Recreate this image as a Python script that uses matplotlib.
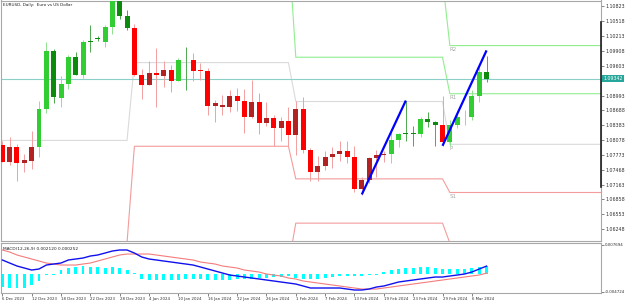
import matplotlib
matplotlib.use('Agg')
import matplotlib.pyplot as plt
import matplotlib.transforms as mtransforms

# EURUSD daily, 6 Dec 2023 - 8 Mar 2024
opens = [1.0797, 1.0763, 1.0793, 1.0761, 1.0764, 1.0794, 1.0872, 1.0991, 1.0895, 1.0922,
         1.0979, 1.0942, 1.1012, 1.1017, 1.1010, 1.1041, 1.1106, 1.1062, 1.1038, 1.0941,
         1.0921, 1.0946, 1.0940, 1.0951, 1.0930, 1.0973, 1.0972, 1.0951, 1.0949, 1.0878,
         1.0876, 1.0876, 1.0898, 1.0889, 1.0855, 1.0885, 1.0843, 1.0853, 1.0833, 1.0846,
         1.0818, 1.0872, 1.0788, 1.0742, 1.0755, 1.0773, 1.0779, 1.0785, 1.0772, 1.0708,
         1.0726, 1.0771, 1.0777, 1.0779, 1.0807, 1.0822, 1.0823, 1.0821, 1.0851, 1.0845,
         1.0838, 1.0804, 1.0838, 1.0855, 1.0856, 1.0899, 1.0948]
highs = [1.0805, 1.0815, 1.0799, 1.0779, 1.0826, 1.0888, 1.1009, 1.0995, 1.0939, 1.0983,
         1.0988, 1.1013, 1.1044, 1.1022, 1.1045, 1.1122, 1.1139, 1.1076, 1.1046, 1.0953,
         1.0971, 1.0998, 1.0970, 1.0962, 1.0977, 1.0999, 1.0987, 1.0966, 1.0955, 1.0890,
         1.0900, 1.0910, 1.0915, 1.0913, 1.0932, 1.0905, 1.0885, 1.0860, 1.0855, 1.0875,
         1.0888, 1.0897, 1.0792, 1.0775, 1.0785, 1.0793, 1.0806, 1.0805, 1.0795, 1.0731,
         1.0772, 1.0788, 1.0786, 1.0825, 1.0822, 1.0888, 1.0836, 1.0855, 1.0865, 1.0847,
         1.0898, 1.0849, 1.0868, 1.0870, 1.0911, 1.0963, 1.0981]
lows = [1.0762, 1.0757, 1.0724, 1.0743, 1.0748, 1.0772, 1.0864, 1.0883, 1.0876, 1.0913,
        1.0942, 1.0935, 1.0988, 1.1012, 1.1000, 1.1026, 1.1057, 1.1034, 1.0939, 1.0892,
        1.0920, 1.0876, 1.0917, 1.0907, 1.0929, 1.0910, 1.0930, 1.0932, 1.0860, 1.0844,
        1.0860, 1.0866, 1.0868, 1.0822, 1.0853, 1.0820, 1.0837, 1.0795, 1.0806, 1.0795,
        1.0778, 1.0781, 1.0723, 1.0723, 1.0747, 1.0750, 1.0765, 1.0760, 1.0700, 1.0695,
        1.0720, 1.0732, 1.0762, 1.0760, 1.0793, 1.0805, 1.0796, 1.0815, 1.0835, 1.0796,
        1.0796, 1.0796, 1.0832, 1.0838, 1.0850, 1.0887, 1.0928]
closes = [1.0763, 1.0794, 1.0760, 1.0766, 1.0794, 1.0872, 1.0991, 1.0896, 1.0922, 1.0979,
          1.0942, 1.1010, 1.1010, 1.1015, 1.1041, 1.1106, 1.1062, 1.1039, 1.0941, 1.0921,
          1.0946, 1.0941, 1.0951, 1.0930, 1.0973, 1.0972, 1.0950, 1.0949, 1.0878, 1.0883,
          1.0880, 1.0898, 1.0889, 1.0855, 1.0885, 1.0843, 1.0853, 1.0833, 1.0846, 1.0818,
          1.0872, 1.0788, 1.0742, 1.0755, 1.0773, 1.0779, 1.0785, 1.0772, 1.0708, 1.0726,
          1.0771, 1.0777, 1.0779, 1.0807, 1.0820, 1.0821, 1.0821, 1.0851, 1.0845, 1.0838,
          1.0804, 1.0838, 1.0855, 1.0856, 1.0899, 1.0948, 1.09342]
# trend colouring of the candles: U = green scheme, D = red scheme
trend = 'DDDDD' + 'U' * 13 + 'D' * 6 + 'UU' + 'D' * 27 + 'U' * 7 + 'D' + 'U' * 6

date_labels = ['6 Dec 2023', '12 Dec 2023', '18 Dec 2023', '22 Dec 2023', '28 Dec 2023',
               '4 Jan 2024', '10 Jan 2024', '16 Jan 2024', '22 Jan 2024', '26 Jan 2024',
               '1 Feb 2024', '7 Feb 2024', '13 Feb 2024', '19 Feb 2024', '23 Feb 2024',
               '29 Feb 2024', '6 Mar 2024']

# monthly pivots (Dec, Jan, Feb, Mar), first bar of each month
month_start = [0, 18, 40, 61]
piv_p = [1.0807, 1.0967, 1.0887, 1.0799]
piv_r1 = [1.1097, 1.1211, 1.0978, 1.0903]
piv_r2 = [1.1307, 1.1383, 1.1137, 1.1002]
piv_s1 = [1.0597, 1.0795, 1.0728, 1.0700]
piv_s2 = [1.0307, 1.0551, 1.0637, 1.0596]

# hand drawn trend lines (bar index, price)
trend_lines = [((49, 1.0696), (55, 1.0889)), ((60, 1.0796), (66, 1.0992))]

price_ticks = [1.06248, 1.06553, 1.06858, 1.07163, 1.07468, 1.07773, 1.08078, 1.08383,
               1.08688, 1.08993, 1.09603, 1.09908, 1.10213, 1.10518, 1.10823]
last_price = 1.09342

# MACD(12,26,9) panel
macd_main = [0.00373, 0.00293, 0.00214, 0.00161, 0.00108, 0.00135, 0.00240, 0.00267, 0.00293, 0.00373,
             0.00399, 0.00425, 0.00478, 0.00505, 0.00557, 0.00610, 0.00637, 0.00637, 0.00557, 0.00452,
             0.00399, 0.00373, 0.00346, 0.00320, 0.00293, 0.00267, 0.00240, 0.00188, 0.00135, 0.00082,
             0.00029, -0.00024, -0.00050, -0.00077, -0.00103, -0.00129, -0.00156, -0.00182, -0.00209, -0.00235,
             -0.00262, -0.00314, -0.00367, -0.00367, -0.00367, -0.00367, -0.00367, -0.00394, -0.00420, -0.00420,
             -0.00394, -0.00341, -0.00314, -0.00262, -0.00209, -0.00182, -0.00156, -0.00129, -0.00103, -0.00077,
             -0.00077, -0.00050, -0.00024, 0.00003, 0.00055, 0.00135, 0.00212]
macd_signal = [0.00637, 0.00584, 0.00505, 0.00452, 0.00399, 0.00346, 0.00293, 0.00267, 0.00240, 0.00240,
               0.00240, 0.00267, 0.00293, 0.00346, 0.00399, 0.00452, 0.00505, 0.00531, 0.00531, 0.00531,
               0.00531, 0.00505, 0.00478, 0.00452, 0.00425, 0.00399, 0.00373, 0.00320, 0.00293, 0.00267,
               0.00214, 0.00188, 0.00161, 0.00108, 0.00082, 0.00055, 0.00003, -0.00024, -0.00050, -0.00103,
               -0.00129, -0.00182, -0.00209, -0.00235, -0.00262, -0.00288, -0.00314, -0.00341, -0.00367, -0.00394,
               -0.00394, -0.00394, -0.00367, -0.00341, -0.00314, -0.00288, -0.00262, -0.00235, -0.00209, -0.00182,
               -0.00156, -0.00129, -0.00103, -0.00077, -0.00050, -0.00024, 0.00025]
macd_hist = [-0.00343, -0.00370, -0.00370, -0.00370, -0.00290, -0.00185, -0.00026, -0.00013, 0.00106, 0.00158,
             0.00185, 0.00211, 0.00185, 0.00185, 0.00158, 0.00185, 0.00158, 0.00106, 0.00026, -0.00132,
             -0.00158, -0.00158, -0.00158, -0.00158, -0.00158, -0.00132, -0.00132, -0.00132, -0.00158, -0.00158,
             -0.00158, -0.00158, -0.00132, -0.00132, -0.00132, -0.00106, -0.00106, -0.00079, -0.00079, -0.00053,
             -0.00106, -0.00132, -0.00132, -0.00132, -0.00106, -0.00079, -0.00053, -0.00053, -0.00053, -0.00053,
             -0.00026, -0.00026, 0.00053, 0.00106, 0.00132, 0.00158, 0.00158, 0.00185, 0.00185, 0.00158,
             0.00132, 0.00132, 0.00132, 0.00132, 0.00158, 0.00185, 0.00211]
macd_ticks = [0.007694, -0.004724]

n = len(closes)
x = list(range(n))
x_right = 81.6

fig = plt.figure(figsize=(6.25, 3.05), dpi=100)
ax = fig.add_axes([0.0016, 1 - 241 / 305, 600 / 625, 240.5 / 305])
axm = fig.add_axes([0.0016, 1 - 293 / 305, 600 / 625, 50 / 305])

# --- pivot levels, stepped per month and carried to the right edge
def level_series(levels):
    vals = []
    for i in range(n):
        m = max(k for k, s in enumerate(month_start) if s <= i)
        vals.append(levels[m])
    return x + [x_right], vals + [levels[-1]]

for levels, col in [(piv_r2, '#90EE90'), (piv_r1, '#90EE90'), (piv_p, '#DADADA'),
                    (piv_s1, '#F49C9C'), (piv_s2, '#F49C9C')]:
    xs, ys = level_series(levels)
    ax.plot(xs, ys, color=col, lw=0.8, zorder=1)

for name, levels in [('R2', piv_r2), ('R1', piv_r1), ('P', piv_p), ('S1', piv_s1)]:
    ax.text(month_start[-1] - 0.1, levels[-1] - 0.0003, name, fontsize=4.0, color='#A8A8A8',
            ha='left', va='top', zorder=2)

# current price line
ax.axhline(last_price, color='#8CCFC8', lw=0.8, zorder=1)

# --- candles
for i in range(n):
    o, h, l, c = opens[i], highs[i], lows[i], closes[i]
    up = c >= o
    if trend[i] == 'U':
        body = '#32CD32' if up else '#0B8A0B'
        wick = '#8FE28F' if up else '#4FA84F'
    else:
        body = '#B22222' if up else '#FF0000'
        wick = '#F2A0A0'
    ax.vlines(i, l, h, color=wick, lw=0.7, zorder=3)
    ax.bar(i, max(abs(c - o), 0.00008), bottom=min(o, c), width=0.68, color=body,
           lw=0, zorder=4)

for (x0, y0), (x1, y1) in trend_lines:
    ax.plot([x0, x1], [y0, y1], color='#0000FF', lw=1.6, zorder=5, solid_capstyle='butt')

ax.set_xlim(-0.18, x_right)
ax.set_ylim(1.06003, 1.10946)
ax.set_xticks([])
ax.yaxis.tick_right()
ax.set_yticks(price_ticks)
ax.set_yticklabels([f'{v:.5f}' for v in price_ticks])
ax.tick_params(axis='y', length=2, width=0.5, color='#505050', labelsize=3.4, pad=1,
               labelcolor='#303030')
for sp in ax.spines.values():
    sp.set_color('#A8A8A8')
    sp.set_linewidth(0.8)

# dark part of the price scale border
blend = mtransforms.blended_transform_factory(ax.transAxes, ax.transData)
ax.plot([1, 1], [1.1050, 1.0712], transform=blend, color='#202020', lw=1.2,
        clip_on=False, zorder=6)

ax.text(1.004, last_price, f'{last_price:.5f}', transform=blend, fontsize=3.4, color='white',
        va='center', ha='left', zorder=7,
        bbox=dict(boxstyle='square,pad=0.3', fc='#26A69A', ec='none'))

ax.text(0.004, 0.988, 'EURUSD, Daily:  Euro vs US Dollar', transform=ax.transAxes,
        fontsize=3.0, color='#202020', ha='left', va='top')

# --- MACD panel
axm.bar(x, macd_hist, width=0.4, color='#00FFFF', lw=0, zorder=2)
axm.plot(x, macd_signal, color='#F47C7C', lw=0.8, zorder=3)
axm.plot(x, macd_main, color='#1010F0', lw=1.0, zorder=4)
axm.set_xlim(-0.18, x_right)
axm.set_ylim(-0.00499, 0.00822)
axm.yaxis.tick_right()
axm.set_yticks(macd_ticks)
axm.set_yticklabels([f'{v:.6f}' for v in macd_ticks])
axm.tick_params(axis='y', length=2, width=0.5, color='#505050', labelsize=2.9, pad=1,
                labelcolor='#303030')
axm.set_xticks(x[::4])
axm.set_xticklabels(date_labels, ha='left')
axm.tick_params(axis='x', length=2, width=0.5, color='#505050', labelsize=2.8, pad=1,
                labelcolor='#303030')
for sp in axm.spines.values():
    sp.set_color('#A8A8A8')
    sp.set_linewidth(0.8)
axm.text(0.004, 0.93, 'MACD(12,26,9) 0.002120 0.000252', transform=axm.transAxes,
         fontsize=3.1, color='#202020', ha='left', va='top')

fig.savefig('out.png', dpi=100, facecolor='white')
